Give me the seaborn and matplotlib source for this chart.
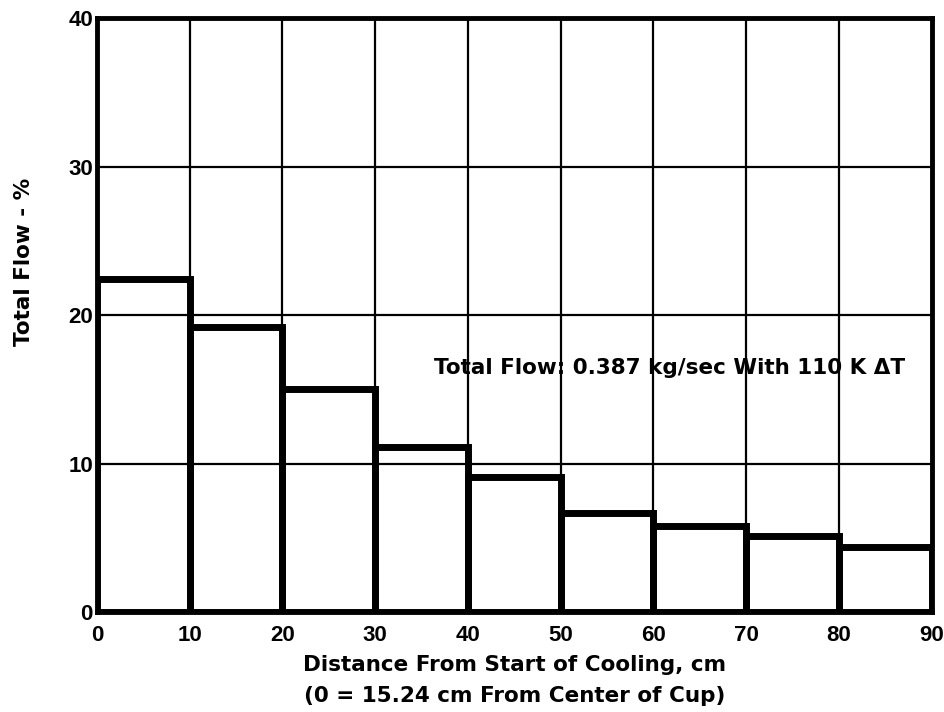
import numpy as np
import pandas as pd
import matplotlib
matplotlib.use("Agg")
import matplotlib.pyplot as plt
import seaborn as sns

# Data
bin_edges = [0, 10, 20, 30, 40, 50, 60, 70, 80, 90]
flow_pct = [22.4, 19.2, 15.0, 11.1, 9.1, 6.7, 5.8, 5.1, 4.4]
x_ticks = [0, 10, 20, 30, 40, 50, 60, 70, 80, 90]
y_ticks = [0, 10, 20, 30, 40]

mids = [(a + b) / 2 for a, b in zip(bin_edges[:-1], bin_edges[1:])]
df = pd.DataFrame({"mid": mids, "flow": flow_pct})

sns.set_theme(style="white")
plt.rcParams["font.family"] = ["DejaVu Sans"]
plt.rcParams["text.color"] = "black"
plt.rcParams["axes.labelcolor"] = "black"
plt.rcParams["xtick.color"] = "black"
plt.rcParams["ytick.color"] = "black"

fig = plt.figure(figsize=(9.44, 7.12), dpi=100)
ax = fig.add_axes([0.1028, 0.1404, 0.884, 0.8343])

sns.histplot(data=df, x="mid", weights="flow", bins=bin_edges, fill=False,
             element="bars", color="black", edgecolor="black", linewidth=5,
             ax=ax, zorder=3)

ax.set_xlim(0, 90)
ax.set_ylim(0, 40)
ax.set_xticks(x_ticks)
ax.set_yticks(y_ticks)
ax.set_xticklabels([str(v) for v in x_ticks])
ax.set_yticklabels([str(v) for v in y_ticks])
for lab in ax.get_xticklabels() + ax.get_yticklabels():
    lab.set_fontfamily("Liberation Sans")
    lab.set_fontsize(16)
    lab.set_fontweight("bold")
ax.tick_params(axis="x", length=0, pad=9)
ax.tick_params(axis="y", length=0, pad=3)
ax.grid(True, color="black", linewidth=1.6, zorder=1)
ax.set_axisbelow(True)
for s in ax.spines.values():
    s.set_color("black")
    s.set_linewidth(3.5)

ax.set_xlabel("Distance From Start of Cooling, cm\n(0 = 15.24 cm From Center of Cup)",
              fontsize=15.5, fontweight="bold", labelpad=7, linespacing=1.65)
ax.set_ylabel("Total Flow - %", fontsize=15.5, fontweight="bold")
ax.yaxis.set_label_coords(-0.076, 0.59)

ax.text(87.2, 16.4, "Total Flow: 0.387 kg/sec With 110 K \u0394T", ha="right",
        va="center", fontsize=15.5, fontweight="bold", color="black", zorder=4)

fig.savefig("out.png", dpi=100, facecolor="white")
